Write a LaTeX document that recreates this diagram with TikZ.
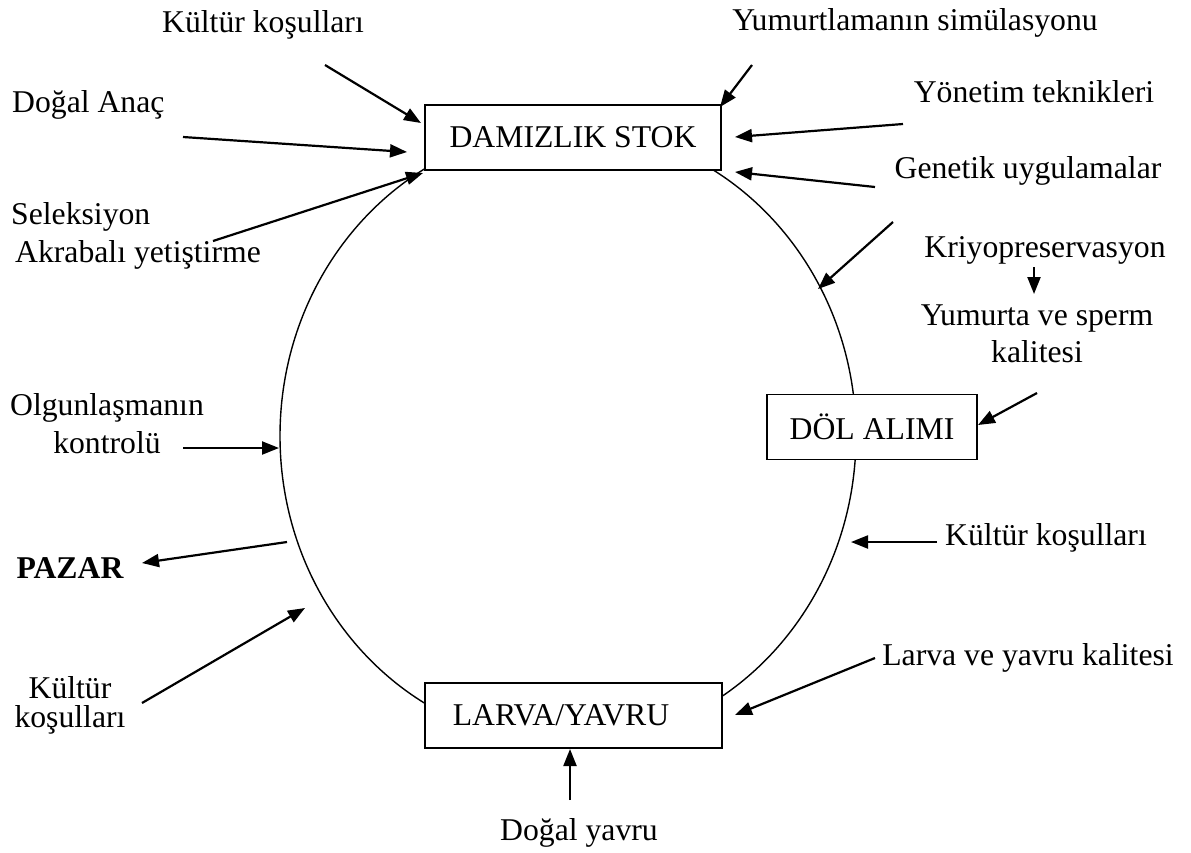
\documentclass[tikz,border=0pt]{standalone}
\usepackage{fontspec}
\setmainfont{Liberation Serif}
\usetikzlibrary{arrows.meta}

\tikzset{
  lbl/.style={inner sep=0pt, align=center, font=\fontsize{31.7}{38}\selectfont},
  stage/.style={draw, line width=1.6pt, fill=white, inner sep=0pt, minimum height=65pt,
    font=\fontsize{31.7}{38}\selectfont},
  feed/.style={line width=2.2pt, -{Triangle[length=17pt,width=13pt]}}
}

\begin{document}
\begin{tikzpicture}[x=1pt,y=-1pt]
  \useasboundingbox (0,0) rectangle (1191,852);

  % the cycle
  \draw[line width=1.4pt] (568,436) ellipse [x radius=288pt, y radius=308pt];

  % stages
  \node[stage, minimum width=296pt] (stok) at (573,137.5) {DAMIZLIK STOK};
  \node[stage, minimum width=210pt] (dol) at (872,427) {DÖL ALIMI};
  \node[stage, minimum width=297pt] (larva) at (573.5,715.5) {\hspace*{-25pt}LARVA/YAVRU};

  % labels
  \node[lbl, anchor=base] (kulturA) at (263,32) {Kültür koşulları};
  \node[lbl, anchor=base west] (anac) at (12,112) {Doğal Anaç};
  \node[lbl, anchor=base west, align=left] (selek) at (11,262) {Seleksiyon\\\hspace*{4pt}Akrabalı yetiştirme};
  \node[lbl, anchor=base] (yumurt) at (915,30) {Yumurtlamanın simülasyonu};
  \node[lbl, anchor=base] (yonetim) at (1034,102) {Yönetim teknikleri};
  \node[lbl, anchor=base] (genetik) at (1028,178) {Genetik uygulamalar};
  \node[lbl, anchor=base] (kriyo) at (1045,257) {Kriyopreservasyon};
  \node[lbl, anchor=base] (sperm) at (1037,362) {Yumurta ve sperm\\[-1pt]kalitesi};
  \node[lbl, anchor=base] (olgun) at (107,453) {Olgunlaşmanın\\kontrolü};
  \node[lbl, anchor=base, font=\fontsize{31.7}{38}\selectfont\bfseries] (pazar) at (70,578) {PAZAR};
  \node[lbl, anchor=base] (kulturB) at (70,727) {Kültür\\[-9pt]koşulları};
  \node[lbl, anchor=base] (kulturC) at (1046,545) {Kültür koşulları};
  \node[lbl, anchor=base] (kalite) at (1028,665) {Larva ve yavru kalitesi};
  \node[lbl, anchor=base] (yavru) at (579,840) {Doğal yavru};

  % arrow ends
  \coordinate (kulturA-t) at (325,65);   \coordinate (kulturA-h) at (421,123);
  \coordinate (anac-t) at (183,137);     \coordinate (anac-h) at (407,152);
  \coordinate (selek-t) at (213,241);    \coordinate (selek-h) at (423,173);
  \coordinate (yumurt-t) at (752,65);    \coordinate (yumurt-h) at (720,107);
  \coordinate (yonetim-t) at (903,124);  \coordinate (yonetim-h) at (735,137);
  \coordinate (genetik-t) at (875,187);  \coordinate (genetik-h) at (735,172);
  \coordinate (kol-t) at (893,222);      \coordinate (kol-h) at (818,289);
  \coordinate (kriyo-t) at (1034,267);   \coordinate (kriyo-h) at (1034,294);
  \coordinate (sperm-t) at (1037,393);   \coordinate (sperm-h) at (978,425);
  \coordinate (olgun-t) at (183,448);    \coordinate (olgun-h) at (279,448);
  \coordinate (pazar-t) at (287,542);    \coordinate (pazar-h) at (142,563);
  \coordinate (kulturB-t) at (142,703);  \coordinate (kulturB-h) at (305,608);
  \coordinate (kulturC-t) at (937,542);  \coordinate (kulturC-h) at (851,542);
  \coordinate (kalite-t) at (875,658);   \coordinate (kalite-h) at (735,715);
  \coordinate (yavru-t) at (570,800);    \coordinate (yavru-h) at (570,749);

  % arrows
  \draw[feed] (kulturA-t) -- (kulturA-h);
  \draw[feed] (anac-t) -- (anac-h);
  \draw[feed] (selek-t) -- (selek-h);
  \draw[feed] (yumurt-t) -- (yumurt-h);
  \draw[feed] (yonetim-t) -- (yonetim-h);
  \draw[feed] (genetik-t) -- (genetik-h);
  \draw[feed] (kol-t) -- (kol-h);
  \draw[feed] (kriyo-t) -- (kriyo-h);
  \draw[feed] (sperm-t) -- (sperm-h);
  \draw[feed] (olgun-t) -- (olgun-h);
  \draw[feed] (pazar-t) -- (pazar-h);
  \draw[feed] (kulturB-t) -- (kulturB-h);
  \draw[feed] (kulturC-t) -- (kulturC-h);
  \draw[feed] (kalite-t) -- (kalite-h);
  \draw[feed] (yavru-t) -- (yavru-h);
\end{tikzpicture}
\end{document}
